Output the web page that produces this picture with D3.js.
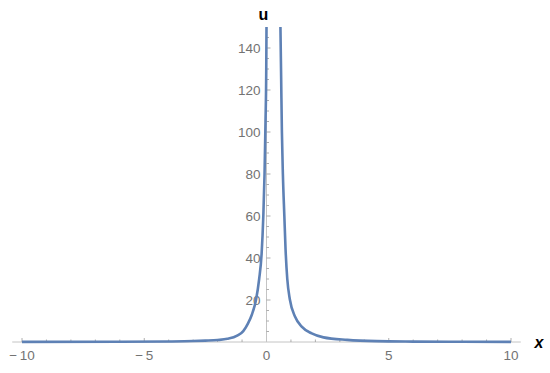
<!DOCTYPE html>
<html>
<head>
    <script src="https://d3js.org/d3.v7.min.js"></script>
    <style>
        body { margin: 0; background: #fff; }
        svg { display: block; }
        .tick-label { font-family: "Liberation Sans", Arial, sans-serif; font-size: 13.5px; fill: #737373; }
    </style>
</head>
<body>
    <svg id="chart" width="550" height="373"></svg>

    <script>
        // values
        const leftX = [-10, -6, -4, -3, -2.5, -2, -1.6, -1.2, -0.95, -0.75, -0.6, -0.43, -0.3, -0.2, -0.13, -0.08, -0.04, -0.01, 0.0];
        const leftU = [0.05, 0.1, 0.25, 0.45, 0.65, 0.95, 1.5, 3.0, 5.2, 9, 13, 20, 30, 42, 60, 80, 105, 130, 150];
        const rightX = [0.57, 0.6, 0.63, 0.67, 0.73, 0.78, 0.85, 0.96, 1.17, 1.44, 1.85, 2.33, 3.3, 4.5, 6, 8, 10];
        const rightU = [150, 125, 100, 80, 60, 44, 30, 20, 12, 7.3, 4.1, 2.2, 1.0, 0.4, 0.2, 0.1, 0.05];
        const xTicks = [-10, -5, 0, 5, 10];
        const yTicks = [20, 40, 60, 80, 100, 120, 140];

        const svg = d3.select("#chart");
        const x = d3.scaleLinear().domain([-10, 10]).range([22, 511]);
        const y = d3.scaleLinear().domain([0, 150]).range([342, 27]);

        const axisCol = "#c4c4c4";
        const tickCol = "#9a9a9a";

        // axes lines
        svg.append("line").attr("x1", x(-10.4)).attr("x2", x(10.4))
            .attr("y1", y(0)).attr("y2", y(0)).attr("stroke", axisCol).attr("stroke-width", 1);
        svg.append("line").attr("x1", x(0)).attr("x2", x(0))
            .attr("y1", y(0)).attr("y2", y(150)).attr("stroke", axisCol).attr("stroke-width", 1);

        // x ticks (minor every 1)
        d3.range(-10, 11, 1).forEach(v => {
            if (v === 0) return;
            const major = v % 5 === 0;
            svg.append("line").attr("x1", x(v)).attr("x2", x(v))
                .attr("y1", y(0)).attr("y2", y(0) - (major ? 4 : 2.5))
                .attr("stroke", tickCol).attr("stroke-width", 0.8);
        });
        // y ticks (minor every 5)
        d3.range(5, 150, 5).forEach(v => {
            const major = v % 20 === 0;
            svg.append("line").attr("x1", x(0)).attr("x2", x(0) + (major ? 4 : 2.5))
                .attr("y1", y(v)).attr("y2", y(v))
                .attr("stroke", tickCol).attr("stroke-width", 0.8);
        });

        svg.selectAll(".xl").data(xTicks).enter().append("text")
            .attr("class", "tick-label")
            .attr("x", d => x(d)).attr("y", y(0) + 18)
            .attr("text-anchor", "middle")
            .text(d => d < 0 ? "\u2212\u2009" + Math.abs(d) : d);

        svg.selectAll(".yl").data(yTicks).enter().append("text")
            .attr("class", "tick-label")
            .attr("x", x(0) - 6).attr("y", d => y(d) + 4.5)
            .attr("text-anchor", "end")
            .text(d => d);

        // axis labels
        svg.append("text").attr("x", x(0) - 3).attr("y", 20)
            .attr("text-anchor", "middle")
            .style("font-family", "Liberation Sans, Arial, sans-serif")
            .style("font-size", "16px").style("font-weight", "bold")
            .text("u");
        svg.append("text").attr("x", 539).attr("y", 348)
            .attr("text-anchor", "middle")
            .style("font-family", "Liberation Sans, Arial, sans-serif")
            .style("font-size", "16px").style("font-weight", "bold").style("font-style", "italic")
            .text("x");

        // curve
        const line = d3.line().x(d => x(d[0])).y(d => y(d[1])).curve(d3.curveMonotoneX);
        const branches = [d3.zip(leftX, leftU), d3.zip(rightX, rightU)];
        svg.selectAll(".branch").data(branches).enter().append("path")
            .attr("d", line)
            .attr("fill", "none")
            .attr("stroke", "#5e81b5")
            .attr("stroke-width", 2.6);
    </script>
</body>
</html>
